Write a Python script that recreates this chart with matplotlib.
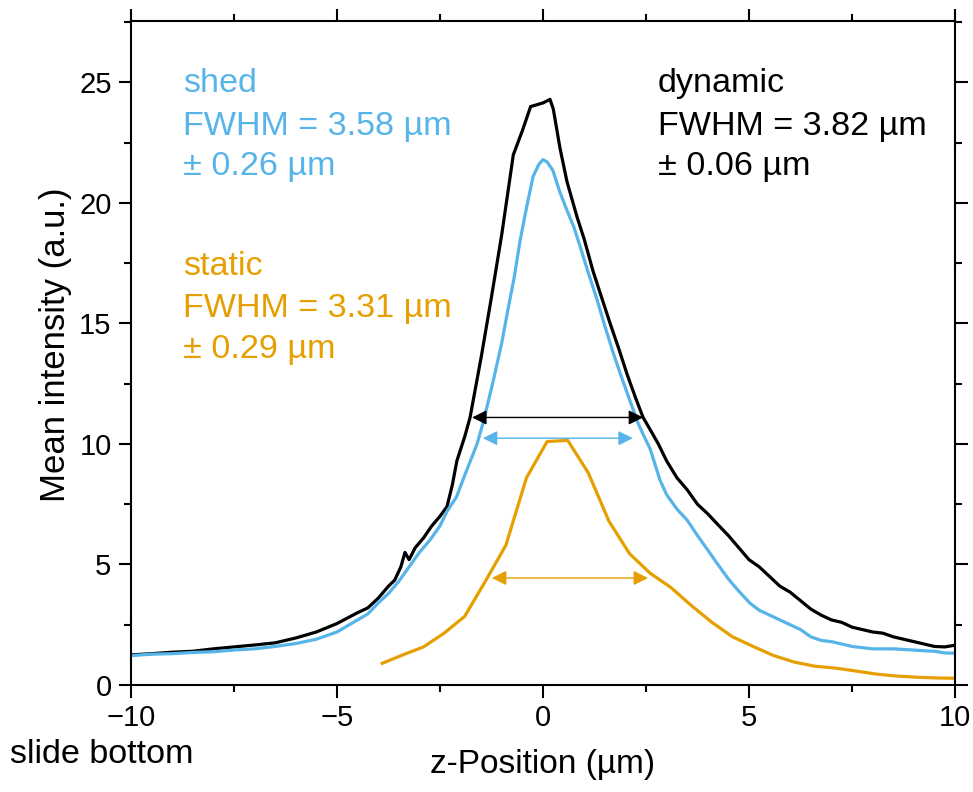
import matplotlib
matplotlib.use("Agg")
import matplotlib.pyplot as plt
from matplotlib.ticker import MultipleLocator

plt.rcParams["font.family"] = ["Liberation Sans", "DejaVu Sans"]

# dynamic (black)
dyn_x = [-10, -9.5, -9, -8.5, -8, -7.5, -7, -6.5, -6, -5.5, -5, -4.5, -4.25, -4, -3.75,
         -3.6, -3.45, -3.35, -3.25, -3.1, -2.9, -2.7, -2.5, -2.33, -2.2, -2.09, -1.9, -1.77,
         -1.5, -1.25, -1.0, -0.72, -0.5, -0.3, 0.0, 0.17, 0.25, 0.41, 0.58, 0.83, 1.0, 1.21,
         1.4, 1.63, 1.85, 2.04, 2.25, 2.43, 2.6, 2.8, 3.0, 3.25, 3.5, 3.75, 4.0, 4.22, 4.5,
         4.75, 5.0, 5.25, 5.5, 5.75, 6.0, 6.25, 6.5, 6.75, 7.0, 7.25, 7.5, 7.75, 8.0, 8.25,
         8.5, 8.75, 9.0, 9.25, 9.5, 9.75, 10.0]
dyn_y = [1.25, 1.3, 1.36, 1.4, 1.5, 1.58, 1.66, 1.75, 1.95, 2.2, 2.55, 3.0, 3.2, 3.6, 4.1,
         4.35, 4.9, 5.5, 5.2, 5.7, 6.1, 6.6, 7.0, 7.4, 8.3, 9.3, 10.3, 11.1,
         13.6, 16.1, 18.7, 22.0, 23.0, 24.0, 24.15, 24.3, 23.9, 22.3, 20.9, 19.4, 18.5, 17.2,
         16.2, 15.0, 13.9, 12.9, 11.9, 11.1, 10.6, 10.0, 9.3, 8.6, 8.1, 7.5, 7.1, 6.7, 6.2,
         5.7, 5.2, 4.9, 4.5, 4.1, 3.85, 3.5, 3.15, 2.9, 2.7, 2.6, 2.4, 2.3, 2.2, 2.15,
         2.0, 1.9, 1.8, 1.7, 1.6, 1.58, 1.65]

# shed (blue)
shed_x = [-10, -9.5, -9, -8.5, -8, -7.5, -7, -6.5, -6, -5.5, -5, -4.5, -4.25, -4, -3.75,
          -3.5, -3.25, -3, -2.75, -2.5, -2.33, -2.1, -1.9, -1.6, -1.45, -1.21, -1.0, -0.87,
          -0.7, -0.56, -0.4, -0.24, -0.1, 0.0, 0.1, 0.24, 0.4, 0.58, 0.75, 0.9, 1.1, 1.31,
          1.5, 1.7, 1.9, 2.11, 2.3, 2.43, 2.6, 2.84, 3.0, 3.25, 3.5, 3.75, 4.0, 4.22, 4.5,
          4.75, 5.02, 5.25, 5.5, 5.75, 6.0, 6.25, 6.5, 6.75, 7.0, 7.25, 7.5, 7.75, 8.0, 8.5,
          9.0, 9.25, 9.5, 9.75, 10.0]
shed_y = [1.22, 1.28, 1.3, 1.35, 1.38, 1.45, 1.5, 1.6, 1.72, 1.9, 2.2, 2.7, 2.95, 3.4, 3.8,
          4.3, 4.9, 5.5, 6.0, 6.6, 7.2, 7.8, 8.7, 10.0, 10.9, 12.6, 14.2, 15.4,
          16.9, 18.4, 19.8, 21.1, 21.6, 21.8, 21.7, 21.35, 20.5, 19.7, 19.0, 18.2, 17.1, 16.0,
          14.9, 13.8, 12.8, 11.8, 10.9, 10.4, 9.8, 8.5, 7.9, 7.3, 6.84, 6.2, 5.6, 5.06, 4.4,
          3.9, 3.4, 3.1, 2.9, 2.7, 2.5, 2.3, 2.0, 1.85, 1.8, 1.7, 1.6, 1.55, 1.5, 1.5,
          1.45, 1.42, 1.4, 1.33, 1.32]

# static (orange)
stat_x = [-3.9, -3.4, -2.9, -2.4, -1.9, -1.4, -0.9, -0.4, 0.1, 0.6, 1.1, 1.6, 2.1, 2.6,
          3.1, 3.6, 4.1, 4.6, 5.1, 5.6, 6.1, 6.6, 7.1, 7.6, 8.1, 8.6, 9.1, 9.6, 10.0]
stat_y = [0.9, 1.25, 1.58, 2.15, 2.85, 4.3, 5.8, 8.6, 10.1, 10.15, 8.8, 6.8, 5.45, 4.64,
          4.05, 3.3, 2.6, 2.0, 1.6, 1.22, 0.95, 0.78, 0.7, 0.58, 0.45, 0.37, 0.32, 0.29, 0.28]

# FWHM arrows: (x_left, x_right, y)
fwhm_dyn = (-1.72, 2.43, 11.1)
fwhm_shed = (-1.46, 2.18, 10.24)
fwhm_stat = (-1.24, 2.55, 4.44)

blue = "#56B4E9"
orange = "#E69F00"

fig = plt.figure(figsize=(9.73, 7.92), dpi=100)
ax = fig.add_axes([0.1346, 0.1351, 0.8469, 0.8384])

ax.plot(dyn_x, dyn_y, color="black", lw=2.3)
ax.plot(shed_x, shed_y, color=blue, lw=2.3)
ax.plot(stat_x, stat_y, color=orange, lw=2.3)

for (x0, x1, y), c in [(fwhm_dyn, "black"), (fwhm_shed, blue), (fwhm_stat, orange)]:
    ax.annotate("", xy=(x1, y), xytext=(x0, y),
                arrowprops=dict(arrowstyle="<|-|>", color=c, lw=1.0,
                                mutation_scale=22, shrinkA=0, shrinkB=0))

fs = 24.6
ax.text(-8.74, 24.59, "shed", color=blue, fontsize=fs)
ax.text(-8.74, 22.80, "FWHM = 3.58 µm", color=blue, fontsize=fs)
ax.text(-8.74, 21.14, "± 0.26 µm", color=blue, fontsize=fs)
ax.text(-8.74, 17.0, "static", color=orange, fontsize=fs)
ax.text(-8.74, 15.26, "FWHM = 3.31 µm", color=orange, fontsize=fs)
ax.text(-8.74, 13.56, "± 0.29 µm", color=orange, fontsize=fs)
ax.text(2.79, 24.59, "dynamic", color="black", fontsize=fs)
ax.text(2.79, 22.80, "FWHM = 3.82 µm", color="black", fontsize=fs)
ax.text(2.79, 21.14, "± 0.06 µm", color="black", fontsize=fs)

ax.set_xlim(-10, 10)
ax.set_ylim(0, 27.55)
ax.xaxis.set_major_locator(MultipleLocator(5))
ax.xaxis.set_minor_locator(MultipleLocator(2.5))
ax.yaxis.set_major_locator(MultipleLocator(5))
ax.yaxis.set_minor_locator(MultipleLocator(2.5))
ax.tick_params(which="both", direction="out", top=True, right=True, width=1.5,
               labelsize=21, pad=5)
ax.tick_params(which="major", length=9)
ax.tick_params(which="minor", length=5)
for s in ax.spines.values():
    s.set_linewidth(1.5)

ax.set_xlabel("z-Position (µm)", fontsize=24, va="baseline")
ax.xaxis.set_label_coords(0.5, -0.1325)
ax.set_ylabel("Mean intensity (a.u.)", fontsize=25, va="center")
ax.yaxis.set_label_coords(-0.092, 0.512)

fig.text(10 / 973, 1 - 763 / 792, "slide bottom", fontsize=24.6, ha="left", va="baseline")

fig.savefig("out.png", dpi=100)
